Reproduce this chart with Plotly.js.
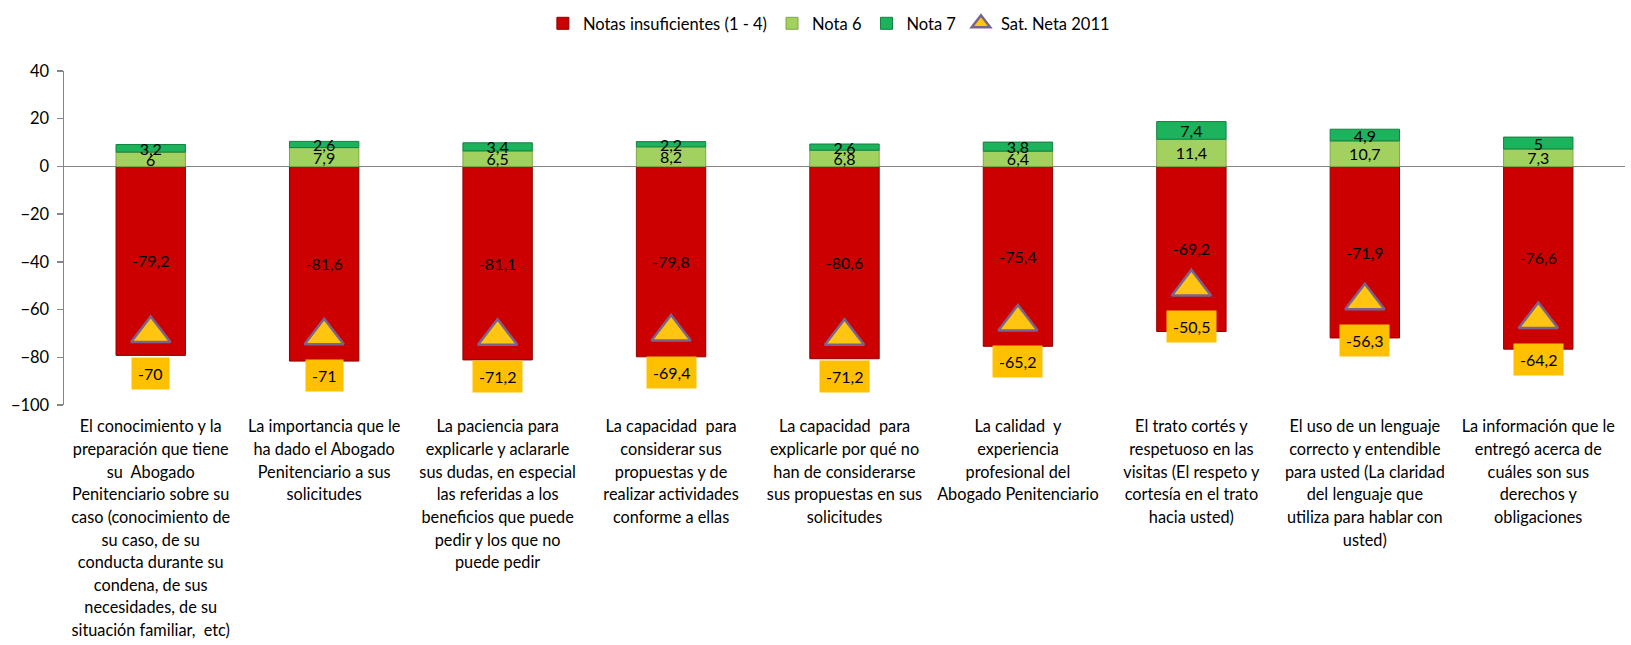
<!DOCTYPE html>
<html>
<head>
<meta charset="utf-8">
<script src="https://cdn.plot.ly/plotly-3.0.1.min.js"></script>
<style>html,body{margin:0;padding:0;background:#fff;}#chart{width:1631px;height:645px;}</style>
</head>
<body>
<div id="chart"></div>
<script>
const categories = [
  "El conocimiento y la<br>preparación que tiene<br>su  Abogado<br>Penitenciario sobre su<br>caso (conocimiento de<br>su caso, de su<br>conducta durante su<br>condena, de sus<br>necesidades, de su<br>situación familiar,  etc)",
  "La importancia que le<br>ha dado el Abogado<br>Penitenciario a sus<br>solicitudes",
  "La paciencia para<br>explicarle y aclararle<br>sus dudas, en especial<br>las referidas a los<br>beneficios que puede<br>pedir y los que no<br>puede pedir",
  "La capacidad  para<br>considerar sus<br>propuestas y de<br>realizar actividades<br>conforme a ellas",
  "La capacidad  para<br>explicarle por qué no<br>han de considerarse<br>sus propuestas en sus<br>solicitudes",
  "La calidad  y<br>experiencia<br>profesional del<br>Abogado Penitenciario",
  "El trato cortés y<br>respetuoso en las<br>visitas (El respeto y<br>cortesía en el trato<br>hacia usted)",
  "El uso de un lenguaje<br>correcto y entendible<br>para usted (La claridad<br>del lenguaje que<br>utiliza para hablar con<br>usted)",
  "La información que le<br>entregó acerca de<br>cuáles son sus<br>derechos y<br>obligaciones"
];
const notasInsuficientes = [-79.2, -81.6, -81.1, -79.8, -80.6, -75.4, -69.2, -71.9, -76.6];
const nota6 = [6, 7.9, 6.5, 8.2, 6.8, 6.4, 11.4, 10.7, 7.3];
const nota7 = [3.2, 2.6, 3.4, 2.2, 2.6, 3.8, 7.4, 4.9, 5];
const satNeta2011 = [-70, -71, -71.2, -69.4, -71.2, -65.2, -50.5, -56.3, -64.2];
const seriesNames = ["Notas insuficientes (1 - 4)", "Nota 6", "Nota 7", "Sat. Neta 2011"];

const fmt = v => String(v).replace('.', ',');
const FONT = 'Lato, "Open Sans", sans-serif';
const xIdx = categories.map((c, i) => i);
const tickText = categories.map(c => c.split('<br>').map(l => '<span style="font-size:16.3px">' + l + '</span>').join('<br>'));

function barTrace(name, vals, color, lineColor) {
  return {
    type: 'bar', name: name, x: xIdx, y: vals,
    text: vals.map(fmt), textposition: 'inside', insidetextanchor: 'middle',
    constraintext: 'none', textangle: 0,
    insidetextfont: {family: FONT, size: 16, color: '#000'},
    marker: {color: color, line: {color: lineColor, width: 1}},
    hoverinfo: 'skip'
  };
}

const traces = [
  barTrace(seriesNames[0], notasInsuficientes, '#CC0000', '#8E0000'),
  barTrace(seriesNames[1], nota6, '#A2D160', '#7FA844'),
  barTrace(seriesNames[2], nota7, '#1DB25C', '#118040'),
  {
    type: 'scatter', mode: 'markers', name: seriesNames[3], x: xIdx, y: satNeta2011,
    marker: {symbol: 'triangle-up', size: 34, color: '#FFC510', line: {color: '#77658F', width: 2.5}},
    hoverinfo: 'skip'
  }
];

const annotations = satNeta2011.map((v, i) => ({
  x: i, y: v, xref: 'x', yref: 'y', text: fmt(v), showarrow: false,
  yshift: -40, bgcolor: '#FFC000', borderpad: 6,
  font: {family: FONT, size: 16, color: '#000'}
}));

const layout = {
  width: 1631, height: 645,
  margin: {l: 64, r: 6, t: 65, b: 240},
  paper_bgcolor: '#fff', plot_bgcolor: '#fff',
  barmode: 'relative', bargap: 0.6,
  font: {family: FONT, size: 16, color: '#000'},
  showlegend: true,
  legend: {orientation: 'h', x: 0.49, xanchor: 'center', y: 1.142, yanchor: 'middle',
    font: {family: FONT, size: 16.5, color: '#000'}, traceorder: 'normal', itemwidth: 20},
  xaxis: {
    type: 'linear', range: [-0.5, 8.5], tickmode: 'array', tickvals: xIdx, ticktext: tickText,
    showgrid: false, zeroline: false, showline: false, ticks: '',
    tickfont: {family: FONT, size: 17.4, color: '#000'}, ticklabelstandoff: 9, fixedrange: true
  },
  yaxis: {
    range: [-100, 40], dtick: 20, tick0: 0, showgrid: false,
    showline: true, linecolor: '#868686', linewidth: 1.5,
    ticks: 'outside', ticklen: 6, tickcolor: '#868686', tickwidth: 1.5,
    zeroline: true, zerolinecolor: '#868686', zerolinewidth: 1.5,
    tickfont: {family: FONT, size: 16.5, color: '#000'}, ticklabelstandoff: 4
  },
  annotations: annotations
};

Plotly.newPlot('chart', traces, layout, {displayModeBar: false, staticPlot: true});
</script>
</body>
</html>
